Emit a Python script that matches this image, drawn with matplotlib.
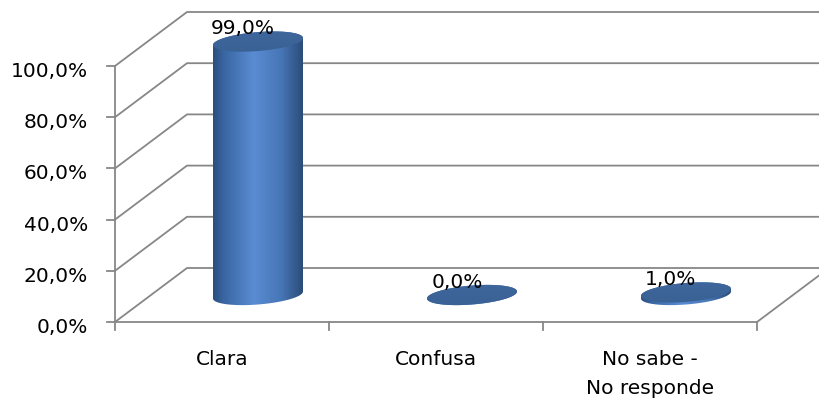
import numpy as np
import matplotlib.pyplot as plt
from matplotlib.patches import Polygon
from matplotlib.colors import LinearSegmentedColormap

categories = ['Clara', 'Confusa', 'No sabe -\nNo responde']
values = [99.0, 0.0, 1.0]
value_labels = ['99,0%', '0,0%', '1,0%']
yticks = [0, 20, 40, 60, 80, 100]
ytick_labels = ['0,0%', '20,0%', '40,0%', '60,0%', '80,0%', '100,0%']

# scale: data units per pixel (x in categories, y in percent)
PX = 1 / 214.0
PY = 1 / 2.56
DX, DY = 72 * PX, 54 * PY        # depth of the 3d box
A, B, K = 45 * PX, 9.5 * PY, 3.5 * PY   # cylinder ellipse radii + tilt

grid_c = '#878787'
lw = 1.3
plt.rcParams['font.family'] = ['DejaVu Sans']
fs = 14.5

fig = plt.figure(figsize=(8.2, 4.01), dpi=100)
ax = fig.add_axes([0, 0, 1, 1])

# walls / gridlines
n = len(categories)
for t in yticks:
    ax.plot([0, DX, n + DX], [t, t + DY, t + DY], color=grid_c, lw=lw, zorder=1)
    ax.plot([-8 * PX, 0], [t, t], color=grid_c, lw=lw, zorder=1)
ax.plot([n, n + DX], [0, DY], color=grid_c, lw=lw, zorder=1)
ax.plot([0, n], [0, 0], color=grid_c, lw=lw, zorder=1)
ax.plot([0, 0], [-8 * PY, max(yticks)], color=grid_c, lw=lw, zorder=1)
for i in range(1, n + 1):
    ax.plot([i, i], [0, -8 * PY], color=grid_c, lw=lw, zorder=1)

for t, lab in zip(yticks, ytick_labels):
    ax.text(-27 * PX, t - 11 * PY, lab, ha='right', va='baseline', fontsize=fs)

body_cmap = LinearSegmentedColormap.from_list(
    'body', [(0, '#2b4e7d'), (0.12, '#3966a3'), (0.45, '#5a8cd2'),
             (0.75, '#4877b8'), (1, '#2b4c78')])
cap_cmap = LinearSegmentedColormap.from_list('cap', ['#385f91', '#4069a0'])


def ellipse(xc, yc, t):
    return xc + A * np.cos(t), yc + B * np.sin(t) + K * np.cos(t)


grad = np.linspace(0, 1, 256).reshape(1, -1)
for i, (cat, v, vl) in enumerate(zip(categories, values, value_labels)):
    xc = i + 0.5 + DX / 2
    yb = DY / 2
    yt = v + DY / 2
    t1 = np.linspace(np.pi, 2 * np.pi, 80)
    t2 = np.linspace(0, np.pi, 80)
    bx, by = ellipse(xc, yb, t1)
    tx, ty = ellipse(xc, yt, t2)
    body = Polygon(np.column_stack([np.r_[bx, tx], np.r_[by, ty]]),
                   closed=True, facecolor='none', edgecolor='none')
    ax.add_patch(body)
    im = ax.imshow(grad, cmap=body_cmap, aspect='auto', zorder=2,
                   extent=[xc - A, xc + A, yb - 2 * B, yt + 2 * B])
    im.set_clip_path(body)

    tt = np.linspace(0, 2 * np.pi, 160)
    cx, cy = ellipse(xc, yt, tt)
    cap = Polygon(np.column_stack([cx, cy]), closed=True,
                  facecolor='none', edgecolor='none')
    ax.add_patch(cap)
    im2 = ax.imshow(grad.T[::-1], cmap=cap_cmap, aspect='auto', zorder=3,
                    extent=[xc - A, xc + A, yt - 2 * B, yt + 2 * B])
    im2.set_clip_path(cap)

    ax.text(xc - 15 * PX, yt + 7.5 * PY, vl, ha='center', va='baseline',
            fontsize=fs, zorder=4)

    for j, line in enumerate(cat.split('\n')):
        ax.text(i + 0.5, -(43 + 29 * j) * PY, line, ha='center',
                va='baseline', fontsize=fs)

ax.set_xlim(-115 * PX, 705 * PX)
ax.set_ylim(-79 * PY, 322 * PY)
ax.axis('off')
fig.savefig('out.png', dpi=100)
